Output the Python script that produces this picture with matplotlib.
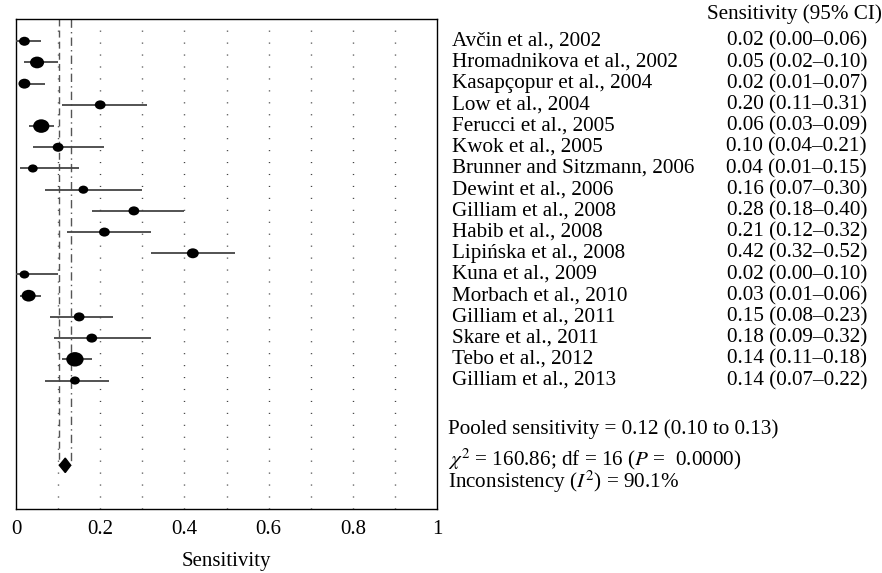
import matplotlib
matplotlib.use("Agg")
import matplotlib.pyplot as plt
import matplotlib.transforms as mtransforms
from matplotlib.path import Path
from matplotlib.patches import Polygon

plt.rcParams["font.family"] = ["Liberation Serif", "DejaVu Serif"]
plt.rcParams["mathtext.fontset"] = "stix"

studies = [
    "Avčin et al., 2002", "Hromadnikova et al., 2002", "Kasapçopur et al., 2004",
    "Low et al., 2004", "Ferucci et al., 2005", "Kwok et al., 2005",
    "Brunner and Sitzmann, 2006", "Dewint et al., 2006", "Gilliam et al., 2008",
    "Habib et al., 2008", "Lipińska et al., 2008", "Kuna et al., 2009",
    "Morbach et al., 2010", "Gilliam et al., 2011", "Skare et al., 2011",
    "Tebo et al., 2012", "Gilliam et al., 2013",
]
sens = [0.02, 0.05, 0.02, 0.20, 0.06, 0.10, 0.04, 0.16, 0.28, 0.21, 0.42,
        0.02, 0.03, 0.15, 0.18, 0.14, 0.14]
ci_low = [0.00, 0.02, 0.01, 0.11, 0.03, 0.04, 0.01, 0.07, 0.18, 0.12, 0.32,
          0.00, 0.01, 0.08, 0.09, 0.11, 0.07]
ci_high = [0.06, 0.10, 0.07, 0.31, 0.09, 0.21, 0.15, 0.30, 0.40, 0.32, 0.52,
           0.10, 0.06, 0.23, 0.32, 0.18, 0.22]
# relative study weights (marker size)
weight = [10, 13, 11, 10, 15, 10, 9, 9, 10, 10, 11, 9, 13, 10, 10, 16, 9]

pooled = 0.117
pooled_low = 0.103
pooled_high = 0.13
chi2 = 160.86
dof = 16
i2 = 90.1

n = len(studies)
rows = list(range(n))
pooled_row = n + 3

fig = plt.figure(figsize=(8.82, 5.73), dpi=100)
ax = fig.add_axes([16 / 882, 1 - 509 / 573, 421 / 882, 490 / 573])
ax.set_xlim(0, 1)
ax.set_ylim(pooled_row + 2.06, -1.05)

for g in [0.1, 0.2, 0.3, 0.4, 0.5, 0.6, 0.7, 0.8, 0.9]:
    ax.axvline(g, color="#444444", lw=1.0, ls=(0, (0.8, 7.8)), zorder=1)

ax.plot([pooled_low, pooled_low], [-1.05, pooled_row], color="#555555",
        lw=1.0, ls=(0, (5, 3)), zorder=2)
ax.plot([pooled_high, pooled_high], [-1.05, pooled_row], color="#555555",
        lw=1.0, ls=(0, (6, 3, 1, 3)), zorder=2)

ax.hlines(rows, ci_low, ci_high, color="#444444", lw=1.3, zorder=3)

ell = Path.unit_circle().transformed(mtransforms.Affine2D().scale(1.2, 1.0))
ax.scatter(sens, rows, s=[(w * 0.78) ** 2 for w in weight], marker=ell,
           color="black", zorder=4, linewidths=0)

dia = Polygon([[pooled_low, pooled_row], [pooled, pooled_row - 0.34],
               [pooled_high, pooled_row], [pooled, pooled_row + 0.34]],
              closed=True, color="black", zorder=4)
ax.add_patch(dia)

ax.set_yticks([])
ax.set_xticks([0, 0.2, 0.4, 0.6, 0.8, 1.0])
ax.set_xticklabels(["0", "0.2", "0.4", "0.6", "0.8", "1"], fontsize=15)
ax.tick_params(axis="x", length=0, pad=8)
ax.set_xlabel("Sensitivity", fontsize=15, labelpad=9)
for sp in ax.spines.values():
    sp.set_linewidth(1.0)

tr = mtransforms.blended_transform_factory(fig.transFigure, ax.transData)
fs = 15.2
ax.text(882 / 882, -1.3, "Sensitivity (95% CI)", transform=tr, ha="right",
        va="center", fontsize=fs, clip_on=False)
for r, name, s, lo, hi in zip(rows, studies, sens, ci_low, ci_high):
    ax.text(452 / 882, r, name, transform=tr, ha="left", va="center",
            fontsize=fs, clip_on=False)
    ax.text(867 / 882, r, f"{s:.2f} ({lo:.2f}\u2013{hi:.2f})", transform=tr,
            ha="right", va="center", fontsize=fs, clip_on=False)

ax.text(448 / 882, n + 1.3, f"Pooled sensitivity = {0.12:.2f} ({0.10:.2f} to {0.13:.2f})",
        transform=tr, ha="left", va="center", fontsize=fs, clip_on=False)
ax.text(448 / 882, n + 2.7, f"$\\chi^2$ = {chi2:.2f}; df = {dof} ($P$ =  0.0000)",
        transform=tr, ha="left", va="center", fontsize=fs, clip_on=False)
ax.text(448 / 882, n + 3.8, f"Inconsistency ($I^2$) = {i2:.1f}%",
        transform=tr, ha="left", va="center", fontsize=fs, clip_on=False)

fig.savefig("out.png", dpi=100)
